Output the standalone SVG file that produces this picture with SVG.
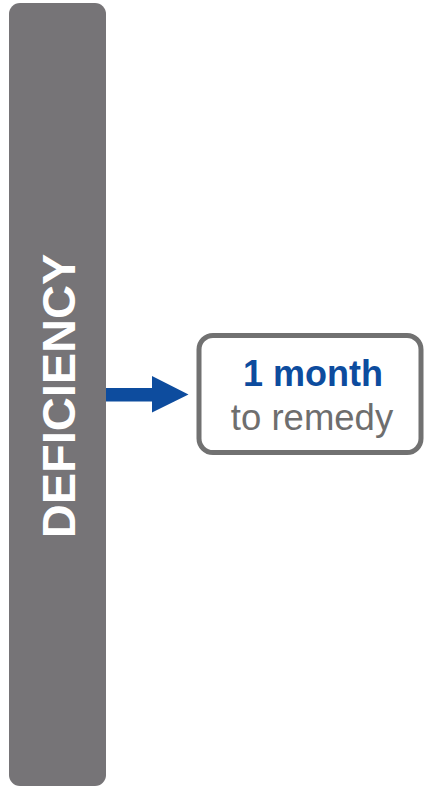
<svg xmlns="http://www.w3.org/2000/svg" width="425" height="787" viewBox="0 0 425 787">
<style>
.bar{fill:#767477}
.lbl{font-family:"Liberation Sans",Arial,sans-serif;font-weight:bold;fill:#ffffff}
.box{fill:#ffffff;stroke:#717171;stroke-width:5}
.t1{font-family:"Liberation Sans",Arial,sans-serif;font-weight:bold;fill:#0D4C9E}
.t2{font-family:"Liberation Sans",Arial,sans-serif;fill:#6E6E6E}
.arr{fill:#0D4C9E}
</style>
<rect width="425" height="787" fill="#ffffff"/>
<g id="deficiency">
<rect class="bar" x="9" y="3" width="97" height="783" rx="11"/>
<text class="lbl" transform="translate(74.5,396) rotate(-90)" text-anchor="middle" font-size="47">DEFICIENCY</text>
</g>
<g id="connectors">
<path class="arr" d="M106,388 H152 V376 L188.5,394.5 L152,412.5 V401.5 H106 Z"/>
</g>
<g id="remedy">
<rect class="box" x="199" y="335.5" width="222" height="117" rx="14"/>
<text class="t1" x="313" y="386" text-anchor="middle" font-size="36">1 month</text>
<text class="t2" x="312" y="430" text-anchor="middle" font-size="36.5">to remedy</text>
</g>
</svg>
